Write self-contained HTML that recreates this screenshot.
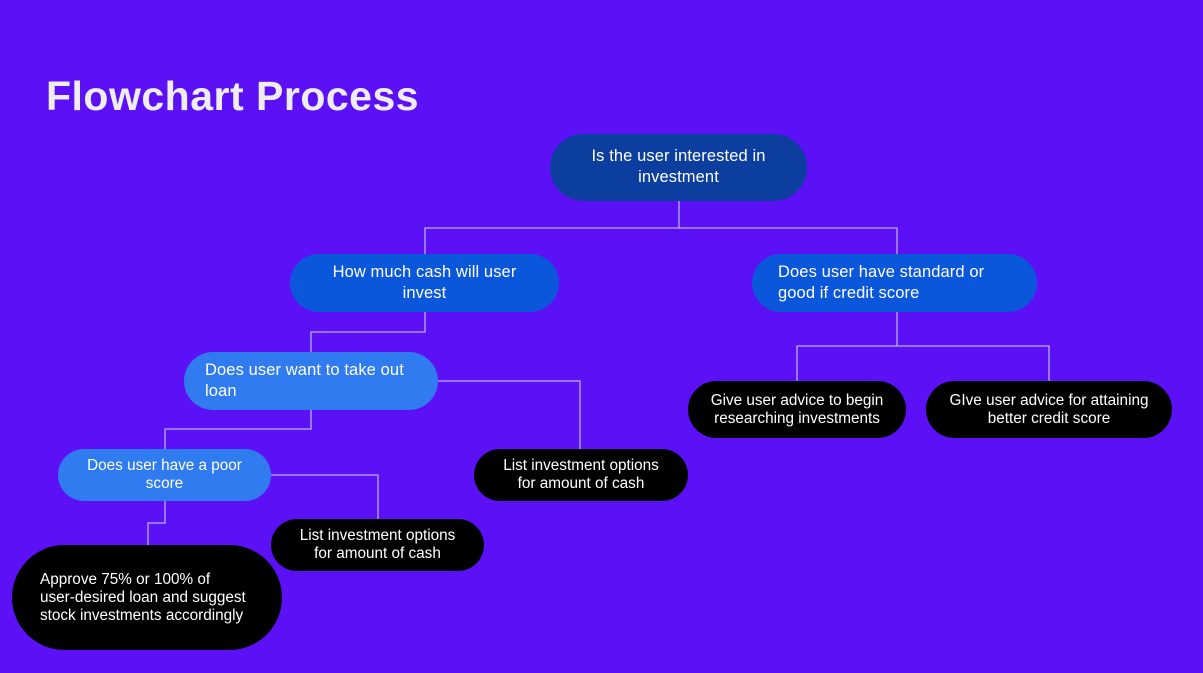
<!DOCTYPE html>
<html><head><meta charset="utf-8"><style>
body{margin:0;width:1203px;height:673px;background:#5b10f5;position:relative;overflow:hidden;font-family:"Liberation Sans",sans-serif;}
.t{position:absolute;left:46px;top:73px;font-size:41px;font-weight:bold;color:#eeeef2;letter-spacing:0.5px;}
.n{position:absolute;box-sizing:border-box;display:flex;align-items:center;justify-content:center;text-align:center;color:#fff;border-radius:40px;font-size:16.5px;line-height:21px;letter-spacing:0.1px;white-space:nowrap;}
.b{background:#000;font-size:15.3px;line-height:18px;letter-spacing:0;}
.l{justify-content:flex-start;text-align:left;}
</style></head><body>
<div class="t">Flowchart Process</div>
<svg width="1203" height="673" style="position:absolute;left:0;top:0" fill="none" stroke="#b9b0e0" stroke-width="1.3">
<polyline points="679,201 679,228"/>
<polyline points="425,254 425,228 897,228 897,254"/>
<polyline points="425,312 425,332 311,332 311,352"/>
<polyline points="438,381 580,381 580,449"/>
<polyline points="311,410 311,429 165,429 165,449"/>
<polyline points="271,475 378,475 378,519"/>
<polyline points="165,501 165,523 148,523 148,545"/>
<polyline points="897,312 897,346 797,346 797,381"/>
<polyline points="897,346 1049,346 1049,381"/>
</svg>
<div class="n" style="left:550px;top:134px;width:257px;height:67px;background:#0c3ea0;border-radius:34px;padding-bottom:2px">Is the user interested in<br>investment</div>
<div class="n" style="left:290px;top:254px;width:269px;height:58px;background:#0b57db">How much cash will user<br>invest</div>
<div class="n l" style="left:752px;top:254px;width:285px;height:58px;background:#0b57db;padding-left:26px">Does user have standard or<br>good if credit score</div>
<div class="n l" style="left:184px;top:352px;width:254px;height:58px;background:#2f7bef;padding-left:21px">Does user want to take out<br>loan</div>
<div class="n" style="left:58px;top:449px;width:213px;height:52px;background:#2f7bef;font-size:15.3px;line-height:18px;letter-spacing:0">Does user have a poor<br>score</div>
<div class="n b" style="left:474px;top:449px;width:214px;height:52px">List investment options<br>for amount of cash</div>
<div class="n b" style="left:271px;top:519px;width:213px;height:52px">List investment options<br>for amount of cash</div>
<div class="n b l" style="left:12px;top:545px;width:270px;height:105px;border-radius:53px;padding-left:28px">Approve 75% or 100% of<br>user-desired loan and suggest<br>stock investments accordingly</div>
<div class="n b" style="left:688px;top:381px;width:218px;height:57px">Give user advice to begin<br>researching investments</div>
<div class="n b" style="left:926px;top:381px;width:246px;height:57px">GIve user advice for attaining<br>better credit score</div>
</body></html>
